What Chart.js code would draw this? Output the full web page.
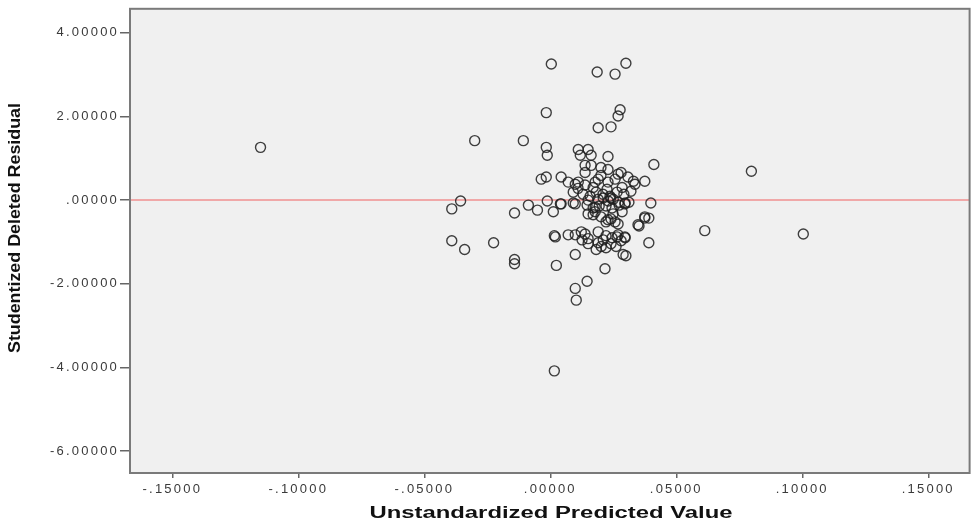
<!DOCTYPE html>
<html>
<head>
<meta charset="utf-8">
<script src="https://cdn.jsdelivr.net/npm/chart.js@4.4.0/dist/chart.umd.min.js"></script>
<style>
  html, body { margin: 0; padding: 0; background: #fff; }
  #wrap { width: 976px; height: 527px; }
</style>
</head>
<body>
<div id="wrap"><canvas id="mycanvas"></canvas></div>
<script>
// Unstandardized predicted value (x) and studentized deleted residual (y)
var predicted = [
	-0.1150, -0.0300, -0.0107, -0.0016, 0.0004, 0.0186, 0.0257, 0.0300, 0.0277, 0.0269,
	0.0190, 0.0241, -0.0016, -0.0012, 0.0111, 0.0150, 0.0119, 0.0162, 0.0229, 0.0411,
	0.0798, 0.1004, 0.0613, 0.0391, -0.0356, -0.0391, -0.0391, -0.0340, -0.0225, -0.0142,
	-0.0142, -0.0142, -0.0087, -0.0051, -0.0012, 0.0012, 0.0040, 0.0091, 0.0016, 0.0071,
	0.0099, 0.0138, 0.0099, 0.0024, 0.0217, 0.0146, 0.0099, 0.0103, 0.0016, 0.0182,
	0.0221, 0.0261, 0.0289, 0.0300, 0.0391, 0.0375, 0.0352, 0.0399, -0.0036, -0.0016,
	0.0043, 0.0071, 0.0099, 0.0138, 0.0178, 0.0201, 0.0229, 0.0257, 0.0281, 0.0308,
	0.0336, 0.0375, 0.0138, 0.0162, 0.0201, 0.0091, 0.0130, 0.0158, 0.0182, 0.0209,
	0.0237, 0.0265, 0.0292, 0.0320, 0.0110, 0.0170, 0.0225, 0.0285, 0.0150, 0.0190,
	0.0230, 0.0250, 0.0270, 0.0210, 0.0240, 0.0146, 0.0170, 0.0194, 0.0221, 0.0245,
	0.0273, 0.0297, 0.0312, 0.0170, 0.0201, 0.0221, 0.0241, 0.0249, 0.0269, 0.0285,
	0.0178, 0.0221, 0.0245, 0.0265, 0.0281, 0.0297, 0.0210, 0.0190, 0.0126, 0.0150,
	0.0020, 0.0123, 0.0150, 0.0190, 0.0202, 0.0241, 0.0269, 0.0296, 0.0348, 0.0375,
	0.0296, 0.0229, 0.0257, 0.0178, 0.0150, 0.0099, 0.0043, 0.0138, 0.0229, 0.0269,
	0.0190, 0.0111, 0.0330
];
var residual = [
	1.26, 1.42, 1.42, 2.09, 3.25, 3.06, 3.01, 3.27, 2.16, 2.01,
	1.73, 1.75, 1.26, 1.07, 1.21, 1.21, 1.07, 1.07, 1.04, 0.85,
	0.69, -0.81, -0.73, -1.02, -0.02, -0.21, -0.97, -1.18, -1.02, -0.31,
	-1.42, -1.52, -0.12, -0.24, -0.02, -0.28, -0.09, -0.07, -0.85, -0.83,
	-0.83, -0.81, -1.30, -1.56, -1.64, -1.94, -2.11, -2.39, -4.08, -1.18,
	-1.14, -1.11, -1.30, -1.33, -0.43, -0.43, -0.62, -0.07, 0.50, 0.55,
	0.55, 0.43, 0.38, 0.36, 0.43, 0.59, 0.43, 0.50, 0.66, 0.55,
	0.38, 0.45, 0.83, 0.83, 0.78, 0.19, 0.14, 0.09, 0.19, 0.14,
	0.09, 0.19, 0.14, 0.21, 0.28, 0.30, 0.26, 0.30, 0.00, 0.02,
	-0.02, 0.02, -0.05, 0.05, 0.05, -0.12, -0.19, -0.14, -0.14, -0.19,
	-0.12, -0.07, -0.05, -0.35, -0.40, -0.52, -0.45, -0.33, -0.57, -0.28,
	-0.28, -0.85, -0.90, -0.88, -0.97, -0.90, -0.95, -1.02, -0.95, -1.04,
	-0.88, -0.76, -0.92, -0.76, -1.11, -1.04, -0.83, -0.88, -0.59, -0.40,
	-0.09, -0.47, -0.52, -0.17, -0.33, -0.09, -0.09, 0.66, 0.73, 0.62,
	0.50, 0.43, 0.45
];
var xTicks = [-0.15, -0.10, -0.05, 0, 0.05, 0.10, 0.15];
var yTicks = [-6, -4, -2, 0, 2, 4];
var xRange = [-0.1668, 0.1664];
var yRange = [-6.52, 4.57];
var refLine = 0;

function fmt(v) {
	var s = v.toFixed(5);
	return s.replace(/^(-?)0\./, '$1.');
}

var points = [];
for (var i in predicted) {
	points.push({ x: predicted[i], y: residual[i] });
}

var frame = {
	id: 'frame',
	beforeDraw: function (chart) {
		var ctx = chart.ctx, a = chart.chartArea;
		ctx.letterSpacing = '2.2px';
		ctx.save();
		ctx.fillStyle = '#f0f0f0';
		ctx.fillRect(a.left, a.top, a.right - a.left, a.bottom - a.top);
		ctx.restore();
	},
	afterDraw: function (chart) {
		var ctx = chart.ctx, a = chart.chartArea;
		ctx.save();
		ctx.letterSpacing = '0px';
		ctx.strokeStyle = '#7a7a7a';
		ctx.lineWidth = 2;
		ctx.strokeRect(a.left, a.top, a.right - a.left, a.bottom - a.top);

		ctx.fillStyle = '#111';
		ctx.textAlign = 'center';
		ctx.textBaseline = 'middle';
		// x title
		ctx.font = 'bold 16px "Liberation Sans", Arial, sans-serif';
		var t = 'Unstandardized Predicted Value';
		var w = ctx.measureText(t).width;
		ctx.save();
		ctx.translate(551, 514);
		ctx.scale(363 / w, 1);
		ctx.fillText(t, 0, 0);
		ctx.restore();
		// y title
		t = 'Studentized Deleted Residual';
		ctx.font = 'bold 17px "Liberation Sans Narrow", "Liberation Sans", Arial, sans-serif';
		w = ctx.measureText(t).width;
		ctx.save();
		ctx.translate(15, 228);
		ctx.rotate(-Math.PI / 2);
		ctx.scale(250 / w, 1);
		ctx.fillText(t, 0, 0);
		ctx.restore();
		ctx.restore();
	}
};

var ctx = document.getElementById('mycanvas');
var scatter = new Chart(ctx, {
	type: 'scatter',
	data: {
		datasets: [
			{
				type: 'line',
				label: 'ref',
				data: [{ x: xRange[0], y: refLine }, { x: xRange[1], y: refLine }],
				borderColor: 'rgba(240, 150, 150, 0.8)',
				borderWidth: 2,
				pointRadius: 0,
				fill: false,
				order: 2
			},
			{
				label: 'Residuals',
				data: points,
				pointRadius: 5,
				pointHoverRadius: 5,
				borderColor: 'rgba(30, 30, 30, 0.85)',
				borderWidth: 1.4,
				backgroundColor: 'rgba(0,0,0,0)',
				order: 1
			}
		]
	},
	options: {
		responsive: true,
		maintainAspectRatio: false,
		animation: false,
		layout: { padding: { top: 5, right: 3, left: 0, bottom: 0 } },
		plugins: { legend: { display: false }, tooltip: { enabled: false } },
		scales: {
			x: {
				type: 'linear',
				min: xRange[0],
				max: xRange[1],
				afterBuildTicks: function (s) { s.ticks = xTicks.map(function (v) { return { value: v }; }); },
				afterFit: function (s) { s.height = 54; },
				border: { display: false },
				grid: { drawOnChartArea: false, drawTicks: true, tickLength: 5, color: '#666', lineWidth: 1.5 },
				ticks: {
					callback: function (v) { return fmt(v); },
					font: { family: '"Liberation Sans", Arial, sans-serif', size: 13 },
					color: '#3a3a3a',
					padding: 4,
					maxRotation: 0,
					autoSkip: false
				}
			},
			y: {
				type: 'linear',
				min: yRange[0],
				max: yRange[1],
				afterBuildTicks: function (s) { s.ticks = yTicks.map(function (v) { return { value: v }; }); },
				afterFit: function (s) { s.width = 130; },
				border: { display: false },
				grid: { drawOnChartArea: false, drawTicks: true, tickLength: 10, color: '#666', lineWidth: 1.5 },
				ticks: {
					callback: function (v) { return fmt(v); },
					font: { family: '"Liberation Sans", Arial, sans-serif', size: 13 },
					color: '#3a3a3a',
					padding: 1,
					autoSkip: false
				}
			}
		}
	},
	plugins: [frame]
});
</script>
</body>
</html>
